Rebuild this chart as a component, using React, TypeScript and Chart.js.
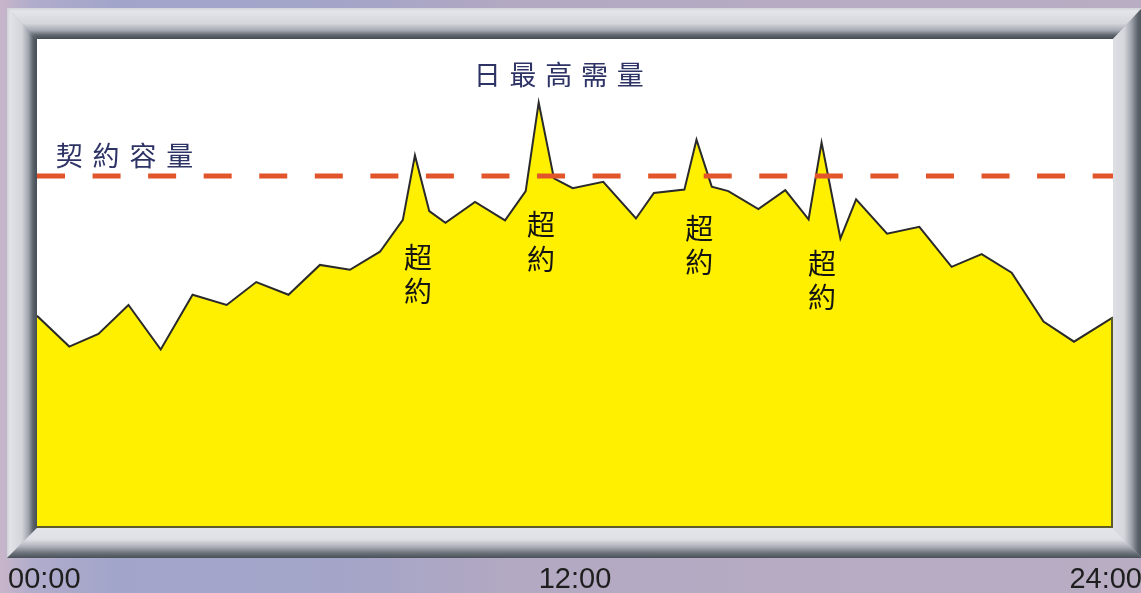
import React, { useEffect, useRef } from "react";
import { Chart, registerables } from "chart.js";

Chart.register(...registerables);

// ---- data ----
const HOURS = [0, 0.72, 1.37, 2.04, 2.76, 3.47, 4.23, 4.89, 5.61, 6.31, 6.98, 7.65, 8.16, 8.43, 8.75, 9.11, 9.77, 10.44, 10.9, 11.19, 11.53, 11.95, 12.63, 13.36, 13.76, 14.44, 14.71, 15.05, 15.42, 16.09, 16.69, 17.21, 17.5, 17.92, 18.27, 18.96, 19.68, 20.4, 21.07, 21.74, 22.45, 23.13, 24];
const DEMAND = [434, 371, 397, 456, 365, 477, 456, 503, 477, 538, 528, 565, 630, 762, 648, 624, 667, 629, 689, 870, 715, 695, 708, 633, 685, 692, 794, 698, 689, 652, 691, 631, 788, 592, 672, 602, 616, 534, 560, 522, 422, 381, 431];
const CONTRACT = 720;
const X_TICKS = [0, 12, 24];
const X_TICK_LABELS = ["00:00", "12:00", "24:00"];
const CONTRACT_LABEL = "契約容量";
const PEAK_LABEL = "日最高需量";
const OVER_LABEL = "超約";
// label anchors in data units (hours, value)
const CONTRACT_LABEL_AT = [0.72, 761];
const PEAK_LABEL_AT = [10.04, 926];
const OVER_AT_HOURS = [8.5, 11.24, 14.77, 17.51];
const OVER_AT_VALUES = [554, 620, 613, 542];

const framePlugin = {
  id: "frame",
  beforeDraw(chart: any) {
    const { ctx, chartArea: a, width, height } = chart;
    ctx.save();
    const bg = ctx.createLinearGradient(0, 0, width, 0);
    bg.addColorStop(0, "#C8B6CA");
    bg.addColorStop(0.03, "#B0ACCC");
    bg.addColorStop(0.1, "#A2A5CA");
    bg.addColorStop(0.3, "#A3A4C8");
    bg.addColorStop(0.45, "#B3A9C2");
    bg.addColorStop(1, "#B8ADC3");
    ctx.fillStyle = bg;
    ctx.fillRect(0, 0, width, height);

    const L = a.left - 30, T = a.top - 31, R = a.right + 29, B = a.bottom + 30;
    const poly = (pts: number[][], fill: any) => {
      ctx.beginPath();
      ctx.moveTo(pts[0][0], pts[0][1]);
      for (let i = 1; i < pts.length; i++) ctx.lineTo(pts[i][0], pts[i][1]);
      ctx.closePath();
      ctx.fillStyle = fill;
      ctx.fill();
    };
    // top
    let g = ctx.createLinearGradient(0, T, 0, a.top);
    g.addColorStop(0, "#D2D4DA");
    g.addColorStop(0.1, "#E4E5EA");
    g.addColorStop(0.5, "#D4D6DC");
    g.addColorStop(0.72, "#A6AAB2");
    g.addColorStop(0.87, "#626870");
    g.addColorStop(1, "#454B53");
    poly([[L, T], [R, T], [a.right, a.top], [a.left, a.top]], g);
    // left
    g = ctx.createLinearGradient(L, 0, a.left, 0);
    g.addColorStop(0, "#CFD1D7");
    g.addColorStop(0.1, "#E2E3E8");
    g.addColorStop(0.5, "#D2D4DA");
    g.addColorStop(0.72, "#9EA2AA");
    g.addColorStop(0.87, "#5C626A");
    g.addColorStop(1, "#474D55");
    poly([[L, T], [a.left, a.top], [a.left, a.bottom], [L, B]], g);
    // bottom
    g = ctx.createLinearGradient(0, a.bottom, 0, B);
    g.addColorStop(0, "#E4E5EA");
    g.addColorStop(0.38, "#DFE0E5");
    g.addColorStop(0.62, "#AEB1B8");
    g.addColorStop(0.85, "#686E76");
    g.addColorStop(1, "#4A5058");
    poly([[L, B], [a.left, a.bottom], [a.right, a.bottom], [R, B]], g);
    // right
    g = ctx.createLinearGradient(a.right, 0, R, 0);
    g.addColorStop(0, "#DDDFE4");
    g.addColorStop(0.38, "#D5D7DD");
    g.addColorStop(0.62, "#A2A6AE");
    g.addColorStop(0.85, "#5E646C");
    g.addColorStop(1, "#4A5058");
    poly([[R, T], [a.right, a.top], [a.right, a.bottom], [R, B]], g);

    ctx.fillStyle = "#FFFFFF";
    ctx.fillRect(a.left, a.top, a.right - a.left, a.bottom - a.top);
    ctx.restore();
  },
  afterDatasetDraw(chart: any, args: any) {
    if (args.index !== 0) return;
    const { ctx, chartArea: a } = chart;
    const pts = chart.getDatasetMeta(0).data;
    const first = pts[0], last = pts[pts.length - 1];
    ctx.save();
    ctx.strokeStyle = "#5E5C2A";
    ctx.lineWidth = 2;
    ctx.beginPath();
    ctx.moveTo(last.x - 1, last.y);
    ctx.lineTo(last.x - 1, a.bottom - 1);
    ctx.lineTo(first.x, a.bottom - 1);
    ctx.stroke();
    ctx.restore();
  },
  afterDatasetsDraw(chart: any) {
    const { ctx, scales } = chart;
    const xs = scales.x, ys = scales.y;
    ctx.save();
    ctx.textAlign = "center";
    ctx.textBaseline = "middle";
    const drawSpaced = (text: string, h: number, v: number, step: number, color: string, font: string) => {
      ctx.fillStyle = color;
      ctx.font = font;
      const x0 = xs.getPixelForValue(h);
      const y0 = ys.getPixelForValue(v);
      Array.from(text).forEach((ch, i) => ctx.fillText(ch, x0 + i * step, y0));
    };
    drawSpaced(CONTRACT_LABEL, CONTRACT_LABEL_AT[0], CONTRACT_LABEL_AT[1], 36.8, "#2E3366", "27px 'Noto Sans CJK TC'");
    drawSpaced(PEAK_LABEL, PEAK_LABEL_AT[0], PEAK_LABEL_AT[1], 35.8, "#2E3366", "27px 'Noto Sans CJK TC'");
    ctx.fillStyle = "#141414";
    ctx.font = "28px 'Noto Sans CJK TC'";
    OVER_AT_HOURS.forEach((h, i) => {
      const x = xs.getPixelForValue(h);
      const y = ys.getPixelForValue(OVER_AT_VALUES[i]);
      Array.from(OVER_LABEL).forEach((ch, j) => ctx.fillText(ch, x, y + j * 34.5));
    });
    ctx.restore();
  },
  afterDraw(chart: any) {
    const { ctx, scales, chartArea: a } = chart;
    const xs = scales.x;
    ctx.save();
    ctx.fillStyle = "#1E1E1E";
    ctx.font = "29px 'Liberation Sans', Arial, sans-serif";
    ctx.textBaseline = "alphabetic";
    X_TICKS.forEach((t, i) => {
      const px = xs.getPixelForValue(t);
      let x = px;
      if (i === 0) { ctx.textAlign = "left"; x = px - 29; }
      else if (i === X_TICKS.length - 1) { ctx.textAlign = "right"; x = px + 29; }
      else ctx.textAlign = "center";
      ctx.fillText(X_TICK_LABELS[i], x, a.bottom + 60);
    });
    ctx.restore();
  },
};

export default function App() {
  const ref = useRef<HTMLCanvasElement | null>(null);
  useEffect(() => {
    if (!ref.current) return;
    const chart = new Chart(ref.current, {
      type: "line",
      data: {
        datasets: [
          {
            data: HOURS.map((h, i) => ({ x: h, y: DEMAND[i] })),
            borderColor: "#2A2A2A",
            borderWidth: 2,
            backgroundColor: "#FFF000",
            fill: "start",
            tension: 0,
            pointRadius: 0,
            borderJoinStyle: "miter",
            order: 2,
          },
          {
            data: [{ x: 0, y: CONTRACT }, { x: 24, y: CONTRACT }],
            borderColor: "#E2542A",
            borderWidth: 5,
            borderDash: [28, 27.56],
            borderCapStyle: "butt",
            fill: false,
            pointRadius: 0,
            order: 1,
          },
        ],
      },
      options: {
        animation: false,
        responsive: false,
        events: [],
        layout: { padding: { left: 37, top: 39, right: 28, bottom: 65 } },
        plugins: { legend: { display: false }, title: { display: false }, tooltip: { enabled: false } },
        scales: {
          x: { type: "linear", min: 0, max: 24, display: false },
          y: { type: "linear", min: 0, max: 1000, display: false },
        },
      } as any,
      plugins: [framePlugin as any],
    });
    return () => chart.destroy();
  }, []);
  return (
    <div style={{ position: "fixed", left: 0, top: 0, width: 1141, height: 593 }}>
      <canvas ref={ref} width={1141} height={593} style={{ width: 1141, height: 593, display: "block" }} />
    </div>
  );
}
